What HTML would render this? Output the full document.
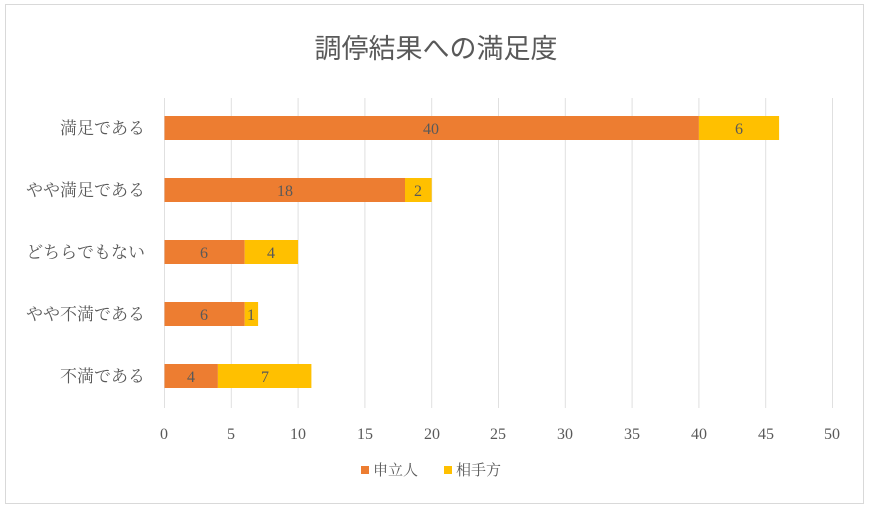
<!DOCTYPE html>
<html><head><meta charset="utf-8"><style>
html,body{margin:0;padding:0;background:#fff;width:872px;height:514px;overflow:hidden}
svg{display:block}
text{fill:#595959}
.j{font-family:"Liberation Serif","Noto Serif CJK SC","Noto Serif CJK JP",serif}
</style></head><body>
<svg width="872" height="514" viewBox="0 0 872 514">
<rect x="5.5" y="4.5" width="858" height="499" fill="#fff" stroke="#d9d9d9"/>
<text x="436" y="58" text-anchor="middle" font-size="27" font-family="Noto Sans CJK JP,sans-serif" style="fill:#595959">調停結果への満足度</text>
<g stroke="#e0e0e0" stroke-width="1">
<line x1="164.5" y1="98" x2="164.5" y2="408"/><line x1="231.3" y1="98" x2="231.3" y2="408"/>
<line x1="298.1" y1="98" x2="298.1" y2="408"/><line x1="364.9" y1="98" x2="364.9" y2="408"/>
<line x1="431.7" y1="98" x2="431.7" y2="408"/><line x1="498.5" y1="98" x2="498.5" y2="408"/>
<line x1="565.3" y1="98" x2="565.3" y2="408"/><line x1="632.1" y1="98" x2="632.1" y2="408"/>
<line x1="698.9" y1="98" x2="698.9" y2="408"/><line x1="765.7" y1="98" x2="765.7" y2="408"/>
<line x1="832.5" y1="98" x2="832.5" y2="408"/>
</g>
<g class="j" font-size="16" text-anchor="middle">
<text x="164" y="439">0</text><text x="231" y="439">5</text><text x="298" y="439">10</text><text x="365" y="439">15</text><text x="432" y="439">20</text><text x="498" y="439">25</text><text x="565" y="439">30</text><text x="632" y="439">35</text><text x="699" y="439">40</text><text x="766" y="439">45</text><text x="832" y="439">50</text>
</g>
<g class="j" font-size="17" text-anchor="end">
<text x="145" y="134">満足である</text>
<text x="145" y="196">やや満足である</text>
<text x="145" y="258">どちらでもない</text>
<text x="145" y="320">やや不満である</text>
<text x="145" y="382">不満である</text>
</g>
<g>
<rect x="164.5" y="116" width="534.4" height="24" fill="#ed7d31"/><rect x="698.9" y="116" width="80.2" height="24" fill="#ffc000"/>
<rect x="164.5" y="178" width="240.5" height="24" fill="#ed7d31"/><rect x="405" y="178" width="26.7" height="24" fill="#ffc000"/>
<rect x="164.5" y="240" width="80.2" height="24" fill="#ed7d31"/><rect x="244.7" y="240" width="53.4" height="24" fill="#ffc000"/>
<rect x="164.5" y="302" width="80.2" height="24" fill="#ed7d31"/><rect x="244.7" y="302" width="13.4" height="24" fill="#ffc000"/>
<rect x="164.5" y="364" width="53.4" height="24" fill="#ed7d31"/><rect x="217.9" y="364" width="93.5" height="24" fill="#ffc000"/>
</g>
<g class="j" font-size="16" text-anchor="middle">
<text x="431" y="134">40</text><text x="739" y="134">6</text>
<text x="285" y="196">18</text><text x="418" y="196">2</text>
<text x="204" y="258">6</text><text x="271" y="258">4</text>
<text x="204" y="320">6</text><text x="251" y="320">1</text>
<text x="191" y="382">4</text><text x="265" y="382">7</text>
</g>
<rect x="361" y="466" width="8" height="8" fill="#ed7d31"/>
<text class="j" x="373" y="475" font-size="15">申立人</text>
<rect x="444" y="466" width="8" height="8" fill="#ffc000"/>
<text class="j" x="456" y="475" font-size="15">相手方</text>
</svg>
</body></html>
